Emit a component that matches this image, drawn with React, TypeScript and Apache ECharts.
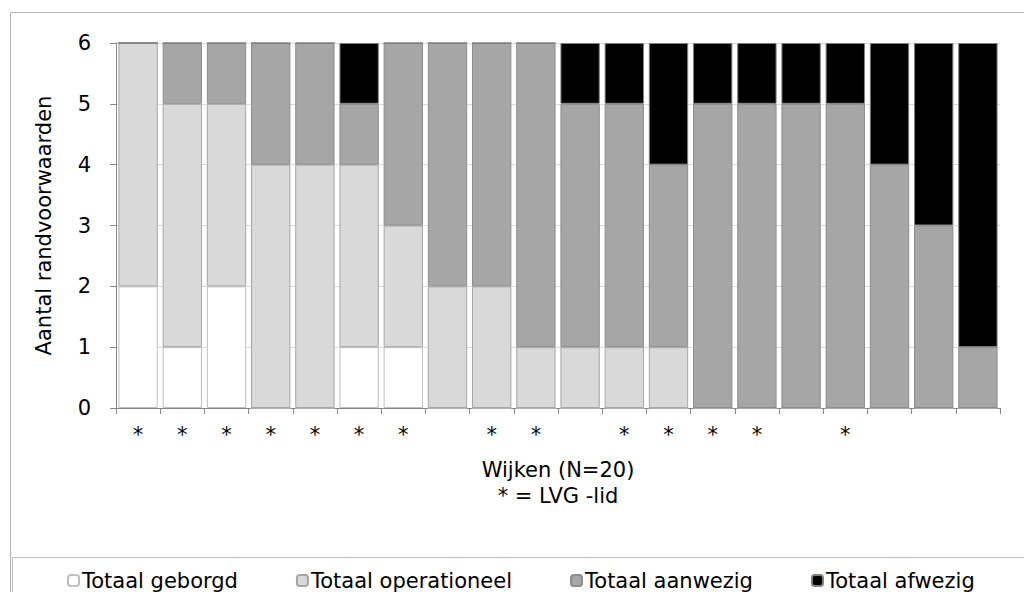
import React, { useEffect, useRef } from "react";
import * as echarts from "echarts";

const categories = ["*", "*", "*", "*", "*", "*", "*", "", "*", "*", "", "*", "*", "*", "*", "", "*", "", "", ""];
const geborgd = [2, 1, 2, 0, 0, 1, 1, 0, 0, 0, 0, 0, 0, 0, 0, 0, 0, 0, 0, 0];
const operationeel = [4, 4, 3, 4, 4, 3, 2, 2, 2, 1, 1, 1, 1, 0, 0, 0, 0, 0, 0, 0];
const aanwezig = [0, 1, 1, 2, 2, 1, 3, 4, 4, 5, 4, 4, 3, 5, 5, 5, 5, 4, 3, 1];
const afwezig = [0, 0, 0, 0, 0, 1, 0, 0, 0, 0, 1, 1, 2, 1, 1, 1, 1, 2, 3, 5];
const seriesNames = ["Totaal geborgd", "Totaal operationeel", "Totaal aanwezig", "Totaal afwezig"];
const yTicks = [0, 6, 1];

const FONT = "DejaVu Sans";

export default function App() {
  const ref = useRef<HTMLDivElement>(null);
  useEffect(() => {
    if (!ref.current) return;
    const chart = echarts.init(ref.current, null, { renderer: "svg" });
    const mk = (name: string, data: number[], color: string, border: string) => ({
      name,
      type: "bar",
      stack: "total",
      data,
      barCategoryGap: "11%",
      itemStyle: { color, borderColor: border, borderWidth: 1 },
      emphasis: { disabled: true },
    });
    chart.setOption({
      animation: false,
      backgroundColor: "#ffffff",
      textStyle: { fontFamily: FONT },
      graphic: [
        { type: "rect", shape: { x: 10.5, y: 12.5, width: 1040, height: 620 }, style: { fill: "none", stroke: "#b3b3b3", lineWidth: 1 }, silent: true },
        { type: "rect", shape: { x: 12.5, y: 557.5, width: 1040, height: 60 }, style: { fill: "none", stroke: "#c0c0c0", lineWidth: 1 }, silent: true },
      ],
      grid: { left: 116, right: 24, top: 43, bottom: 184, containLabel: false },
      legend: {
        left: 67,
        top: 570,
        padding: 0,
        itemWidth: 11,
        itemHeight: 11,
        itemGap: 58,
        textStyle: { fontFamily: FONT, fontSize: 21, color: "#000", padding: [0, 0, 0, -2] },
        data: seriesNames,
      },
      xAxis: {
        type: "category",
        data: categories,
        name: "Wijken (N=20)\n* = LVG -lid",
        nameLocation: "middle",
        nameGap: 49,
        nameTextStyle: { fontFamily: FONT, fontSize: 21, color: "#000", lineHeight: 26 },
        axisLine: { lineStyle: { color: "#868686", width: 1 } },
        axisTick: { show: true, alignWithLabel: false, length: 6, lineStyle: { color: "#868686" } },
        axisLabel: { fontFamily: FONT, fontSize: 21, color: "#000", margin: 16, interval: 0 },
        splitLine: { show: false },
      },
      yAxis: {
        type: "value",
        min: yTicks[0],
        max: yTicks[1],
        interval: yTicks[2],
        name: "Aantal randvoorwaarden",
        nameLocation: "middle",
        nameGap: 62,
        nameRotate: 90,
        nameTextStyle: { fontFamily: FONT, fontSize: 21, color: "#000" },
        axisLine: { show: true, lineStyle: { color: "#868686", width: 1 } },
        axisTick: { show: true, length: 6, lineStyle: { color: "#868686" } },
        axisLabel: { fontFamily: FONT, fontSize: 21, color: "#000", margin: 25 },
        splitLine: { show: true, lineStyle: { color: "#d9d9d9", width: 1 } },
      },
      series: [
        mk(seriesNames[0], geborgd, "#ffffff", "#bfbfbf"),
        mk(seriesNames[1], operationeel, "#d9d9d9", "#a6a6a6"),
        mk(seriesNames[2], aanwezig, "#a6a6a6", "#8c8c8c"),
        mk(seriesNames[3], afwezig, "#000000", "#7f7f7f"),
      ],
    });
    return () => chart.dispose();
  }, []);
  return <div ref={ref} style={{ position: "fixed", left: 0, top: 0, width: 1024, height: 592 }} />;
}
